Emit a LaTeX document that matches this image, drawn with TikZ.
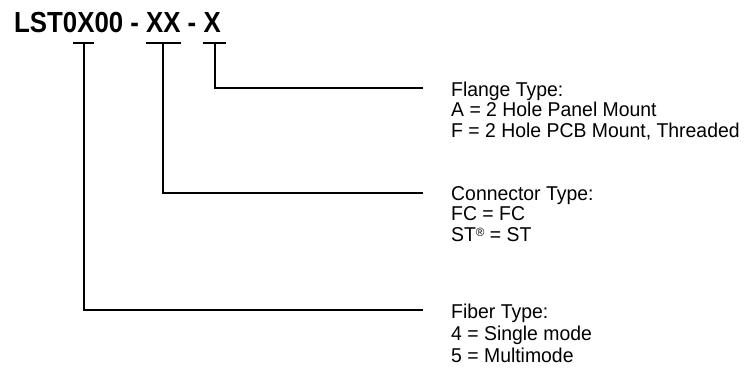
\documentclass[tikz,border=0pt]{standalone}
\usepackage{fontspec}
\setmainfont{Liberation Sans}
\newfontfamily\titlefont[FakeStretch=0.89]{Liberation Sans}
\newfontfamily\labelfont[FakeStretch=0.97]{Liberation Sans}
\newcommand{\regmark}{\raisebox{5.5pt}{\fontsize{12}{12}\selectfont\textregistered}}
\begin{document}
\begin{tikzpicture}[x=1pt,y=-1pt,
  ln/.style={line width=1.8pt,black},
  lbl/.style={anchor=base west,inner sep=0pt,font=\labelfont\fontsize{20}{21}\selectfont},
  ttl/.style={anchor=base west,inner sep=0pt,font=\titlefont\bfseries\fontsize{29}{30}\selectfont}]
\useasboundingbox (0,0) rectangle (754,385);
\node[ttl] (title) at (14,32.3) {LST0X00 - XX - X};
% T bars
\coordinate (b1l) at (73,43); \coordinate (b1r) at (94,43); \coordinate (b1c) at (84,43);
\coordinate (b2l) at (146,43); \coordinate (b2r) at (181,43); \coordinate (b2c) at (163,43);
\coordinate (b3l) at (203,43); \coordinate (b3r) at (226,43); \coordinate (b3c) at (215,43);
\coordinate (e1) at (423,310);
\coordinate (e2) at (423,193);
\coordinate (e3) at (423,88);
\draw[ln] (b1l) -- (b1r);
\draw[ln] (b2l) -- (b2r);
\draw[ln] (b3l) -- (b3r);
\draw[ln] (b3c) |- (e3);
\draw[ln] (b2c) |- (e2);
\draw[ln] (b1c) |- (e1);
% labels
\node[lbl] (f0) at (451,96) {Flange Type:};
\node[lbl] (f1) at (451,116.5) {A = 2 Hole Panel Mount};
\node[lbl] (f2) at (451,137) {F = 2 Hole PCB Mount, Threaded};
\node[lbl] (c0) at (451,200) {Connector Type:};
\node[lbl] (c1) at (451,220.5) {FC = FC};
\node[lbl] (c2) at (451,241.5) {ST\regmark\ = ST};
\node[lbl] (p0) at (451,318) {Fiber Type:};
\node[lbl] (p1) at (451,340) {4 = Single mode};
\node[lbl] (p2) at (451,362) {5 = Multimode};
\end{tikzpicture}
\end{document}
